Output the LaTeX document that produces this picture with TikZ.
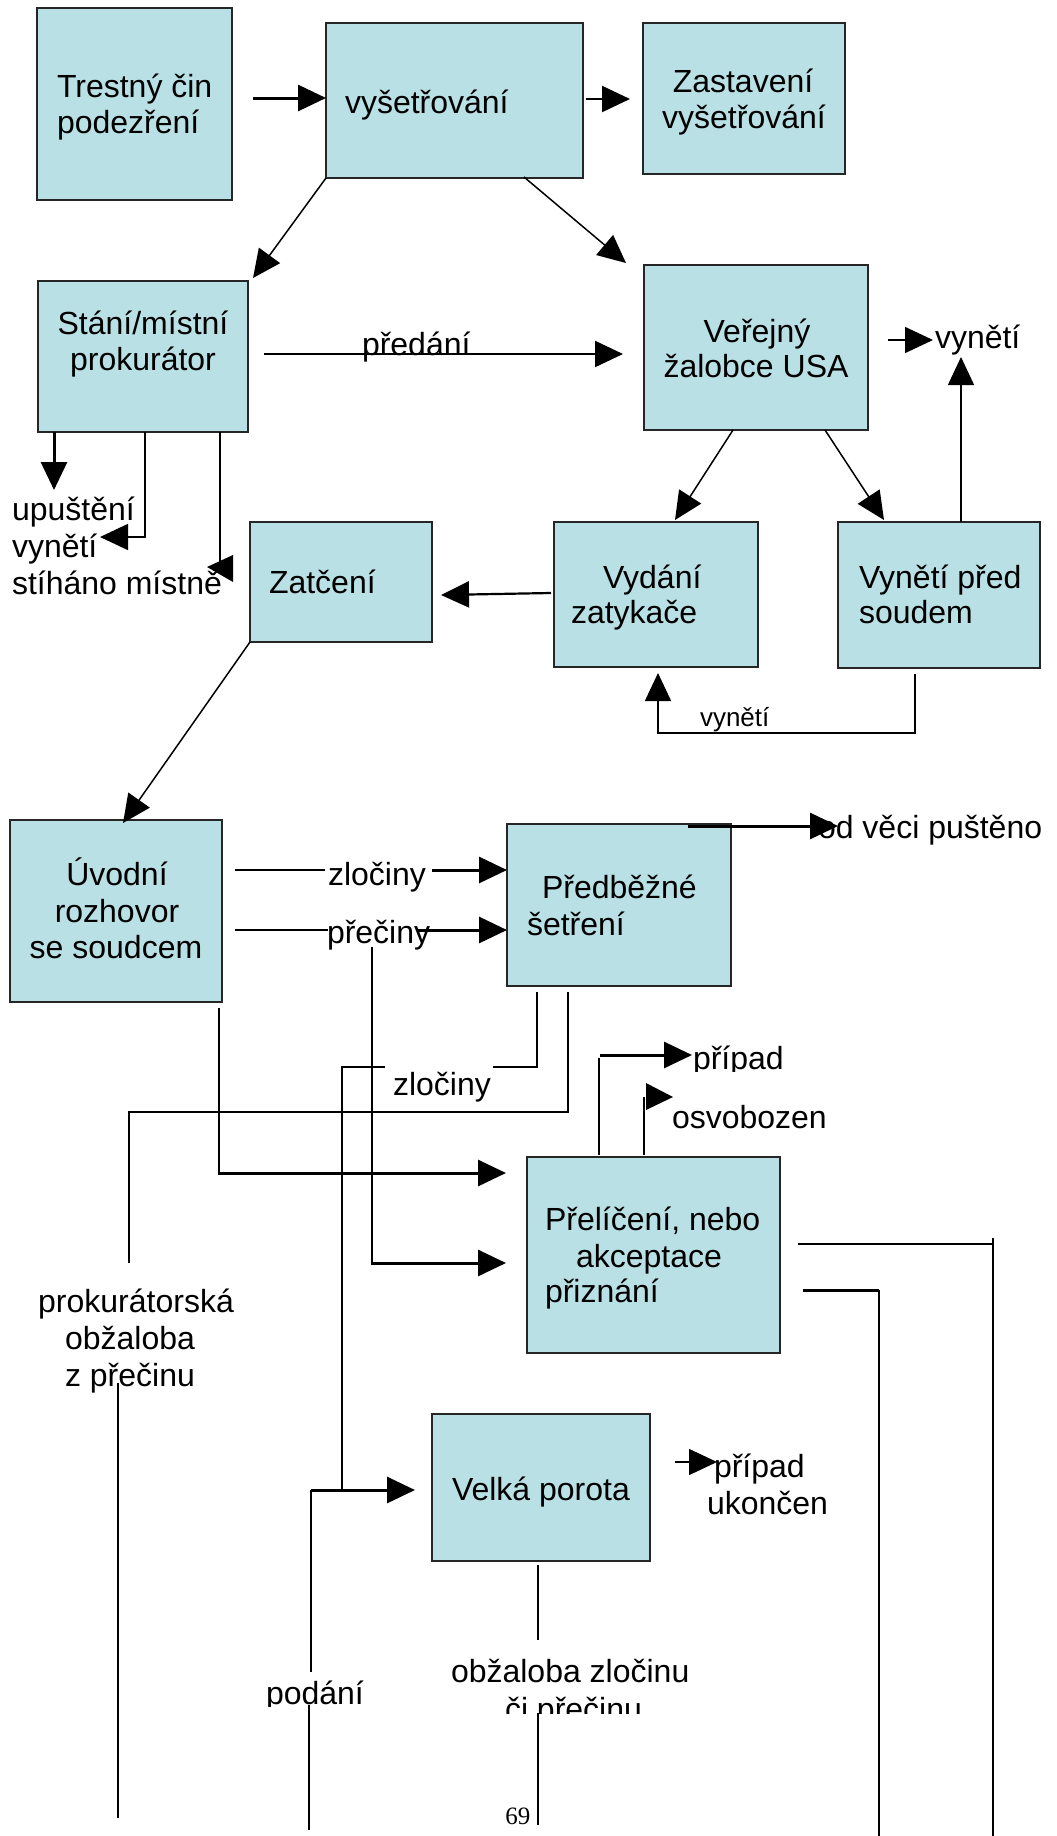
\documentclass[tikz,border=0pt]{standalone}
\usepackage{fontspec}
\setmainfont{Liberation Sans}
\newfontfamily\tnr{Liberation Serif}
\usetikzlibrary{arrows.meta}
\definecolor{boxfill}{RGB}{185,224,228}
\begin{document}
\begin{tikzpicture}[x=0.5pt,y=-0.5pt,
  box/.style={draw=black!85, line width=1.2pt, fill=boxfill, inner sep=0pt, outer sep=0pt, rectangle},
  txt/.style={inner sep=0pt, outer sep=0pt, font=\fontsize{16}{18.5}\selectfont},
  tl/.style={txt, anchor=base west},
  tc/.style={txt, anchor=base},
  small/.style={inner sep=0pt, outer sep=0pt, anchor=base west, font=\fontsize{13}{15}\selectfont},
  ln/.style={line width=0.75pt},
  mid/.style={line width=1.1pt},
  thk/.style={line width=1.5pt},
  arr/.style={-{Triangle[length=14pt,width=13pt]}},
  tip/.style={fill=black}]
\useasboundingbox (0,0) rectangle (1056,1836);

% boxes
\node[box, minimum width=97.5pt, minimum height=96pt]   (trest)  at (134.5,104) {};
\node[box, minimum width=128.5pt, minimum height=77.5pt] (vys)    at (454.5,100.5) {};
\node[box, minimum width=101pt, minimum height=75.5pt]   (zast)   at (744,98.5) {};
\node[box, minimum width=105pt, minimum height=75.5pt]   (stani)  at (143,356.5) {};
\node[box, minimum width=112pt, minimum height=82.5pt]   (verej)  at (756,347.5) {};
\node[box, minimum width=91pt, minimum height=60pt]      (zatc)   at (341,582) {};
\node[box, minimum width=102pt, minimum height=72.5pt]   (vydani) at (656,594.5) {};
\node[box, minimum width=101pt, minimum height=73pt]     (vynet)  at (939,595) {};
\node[box, minimum width=106pt, minimum height=91pt]     (uvod)   at (116,911) {};
\node[box, minimum width=112pt, minimum height=81pt]     (predb)  at (619,905) {};
\node[box, minimum width=126.5pt, minimum height=98pt]   (preli)  at (653.5,1255) {};
\node[box, minimum width=109pt, minimum height=73.5pt]   (porota) at (541,1487.5) {};

% box texts
\node[tl] (t1a) at (57,97) {Trestný čin};
\node[tl] (t1b) at (57,133) {podezření};
\node[tl] (t2) at (345,113) {vyšetřování};
\node[tc] (t3a) at (743,92) {Zastavení};
\node[tc] (t3b) at (744,128) {vyšetřování};
\node[tc] (t4a) at (143,334) {Stání/místní};
\node[tc] (t4b) at (143,370) {prokurátor};
\node[tc] (t5a) at (757,342) {Veřejný};
\node[tc] (t5b) at (756,377) {žalobce USA};
\node[tl] (t6) at (269,593) {Zatčení};
\node[tl] (t7a) at (603,588) {Vydání};
\node[tl] (t7b) at (571,623) {zatykače};
\node[tl] (t8a) at (859,588) {Vynětí před};
\node[tl] (t8b) at (859,623) {soudem};
\node[tc] (t9a) at (117,885) {Úvodní};
\node[tc] (t9b) at (117,922) {rozhovor};
\node[tc] (t9c) at (116,958) {se soudcem};
\node[tl] (t10a) at (542,898) {Předběžné};
\node[tl] (t10b) at (527,935) {šetření};
\node[tl] (t11a) at (545,1230) {Přelíčení, nebo};
\node[tl] (t11b) at (576,1267) {akceptace};
\node[tl] (t11c) at (545,1302) {přiznání};
\node[tl] (t12) at (452,1500) {Velká porota};

% outer labels
\node[tl] (lpred) at (362,355) {předání};
\node[tl] (lvyn1) at (935,348) {vynětí};
\node[tl] (lupu) at (12,520) {upuštění};
\node[tl] (lvyn2) at (12,557) {vynětí};
\node[tl] (lsti) at (12,594) {stíháno místně};
\node[small] (lvyn3) at (700,726) {vynětí};
\node[tl] (lodv) at (818,838) {od věci puštěno};
\node[tl] (lzl1) at (328,885) {zločiny};
\node[tl] (lpr1) at (327,943) {přečiny};
\node[tl] (lzl2) at (393,1095) {zločiny};
\begin{scope}
  \clip (600,1000) rectangle (900,1071);
  \node[tl] (lpri1) at (693,1069) {případ};
\end{scope}
\node[tl] (losv) at (672,1128) {osvobozen};
\node[tc] (lpro1) at (136,1312) {prokurátorská};
\node[tc] (lpro2) at (130,1349) {obžaloba};
\node[tc] (lpro3) at (130,1386) {z přečinu};
\node[tl] (lpri2) at (714,1477) {případ};
\node[tl] (lukon) at (707,1514) {ukončen};
\begin{scope}
  \clip (200,1600) rectangle (420,1706);
  \node[tl] (lpod) at (266,1704) {podání};
\end{scope}
\node[tl] (lobz) at (451,1682) {obžaloba zločinu};
\begin{scope}
  \clip (450,1690) rectangle (720,1713);
  \node[tl] (lci) at (505,1720) {či přečinu};
\end{scope}
\node[inner sep=0pt, anchor=base west, font=\tnr\fontsize{12.5}{14}\selectfont] (pg) at (505,1824) {69};

% connectors
\draw[thk,arr] (253,98) -- (326,98);
\draw[mid,arr] (586,99) -- (630,99);
\draw[ln,arr] (vys.south west) -- (253,278);
\draw[ln,arr] (524,177) -- (626,263);
\draw[mid,arr] (264,354) -- (623,354);
\draw[ln,arr] (888,340) -- (933,340);
\draw[ln,arr] (961,522) -- (961,357);
\draw[ln,arr] (733,430) -- (675,520);
\draw[ln,arr] (825,430) -- (884,520);
\draw[thk,arr] (54,432) -- (54,490);
\draw[ln,arr] (145,432) -- (145,537) -- (100,537);
\draw[ln] (220,432) -- (220,568);
\fill[tip] (207,567) -- (233,555) -- (233,582) -- cycle;
\draw[mid,arr] (551,593) -- (441,595);
\draw[ln,arr] (915,674) -- (915,733) -- (658,733) -- (658,673);
\draw[ln,arr] (zatc.south west) -- (123,823);
\draw[thk,arr] (688,826) -- (838,826);
\draw[ln] (235,870) -- (325,870);
\draw[thk,arr] (432,870) -- (507,870);
\draw[ln] (235,930) -- (328,930);
\draw[thk,arr] (417,930) -- (507,930);
\draw[ln] (219,1008) -- (219,1173);
\draw[thk,arr] (218,1173) -- (506,1173);
\draw[ln] (372,947) -- (372,1263);
\draw[thk,arr] (371,1263) -- (506,1263);
\draw[ln] (537,992) -- (537,1067) -- (493,1067);
\draw[ln] (385,1067) -- (342,1067) -- (342,1490);
\draw[thk,arr] (311,1490) -- (415,1490);
\draw[ln] (311,1490) -- (311,1672);
\draw[ln] (309,1705) -- (309,1830);
\draw[ln] (568,992) -- (568,1112) -- (129,1112) -- (129,1263);
\draw[ln] (118,1383) -- (118,1818);
\draw[ln] (599,1155) -- (599,1058);
\draw[thk,arr] (600,1055) -- (692,1055);
\draw[ln] (644,1155) -- (644,1097);
\fill[tip] (673,1097) -- (646,1083) -- (646,1110) -- cycle;
\draw[mid] (798,1244) -- (993,1244);
\draw[ln] (993,1238) -- (993,1836);
\draw[thk] (803,1290) -- (879,1290);
\draw[ln] (879,1290) -- (879,1836);
\draw[ln,arr] (675,1462) -- (717,1462);
\draw[ln] (538,1565) -- (538,1640);
\draw[ln] (538,1713) -- (538,1825);
\end{tikzpicture}
\end{document}
